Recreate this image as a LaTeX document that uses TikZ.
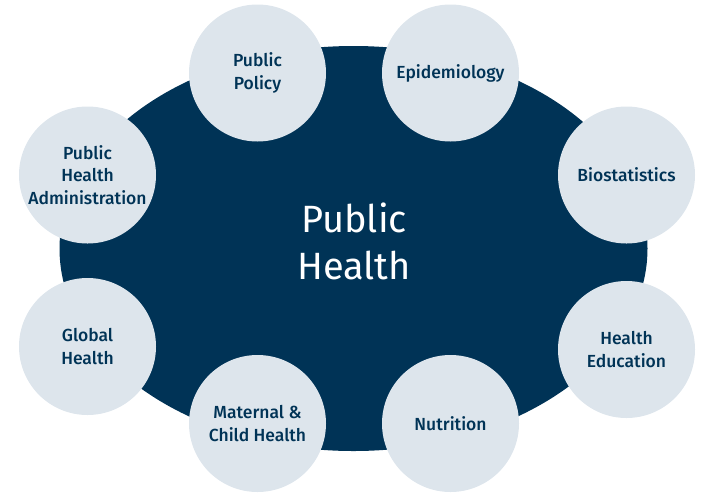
\documentclass[tikz,border=0pt]{standalone}
\usepackage{fontspec}
\setmainfont{Fira Sans}
\newfontfamily\medfont{Fira Sans Medium}
\definecolor{navy}{HTML}{003356}
\definecolor{pale}{HTML}{DDE5EC}
\usetikzlibrary{shapes.geometric}
\tikzset{
  topic/.style={circle, fill=pale, minimum size=137pt, inner sep=0pt,
    align=center, text=navy, font=\medfont\fontsize{17.5}{22.5}\selectfont},
  hub/.style={ellipse, fill=navy, minimum width=588pt, minimum height=405pt,
    inner sep=0pt},
  hubtext/.style={align=center, text=white, font=\fontsize{38}{47}\selectfont}
}
\begin{document}
\begin{tikzpicture}[x=1pt,y=-1pt]
\useasboundingbox (0,0) rectangle (709,499);
\node[hub] (ph) at (353.5,248.5) {};
\node[hubtext] (phtext) at (354,241) {Public\\Health};
\node[topic] (pp) at (257.5,73) {Public\\Policy};
\node[topic] (ep) at (450.5,73) {Epidemiology};
\node[topic] (pha) at (87.5,175) {Public\\Health\\Administration};
\node[topic] (bs) at (626.5,175) {Biostatistics};
\node[topic] (gh) at (87.5,346.5) {Global\\Health};
\node[topic] (he) at (626.5,349.5) {Health\\Education};
\node[topic] (mch) at (257.5,423.5) {Maternal \&\\Child Health};
\node[topic] (nu) at (450.5,423.5) {Nutrition};
\end{tikzpicture}
\end{document}
